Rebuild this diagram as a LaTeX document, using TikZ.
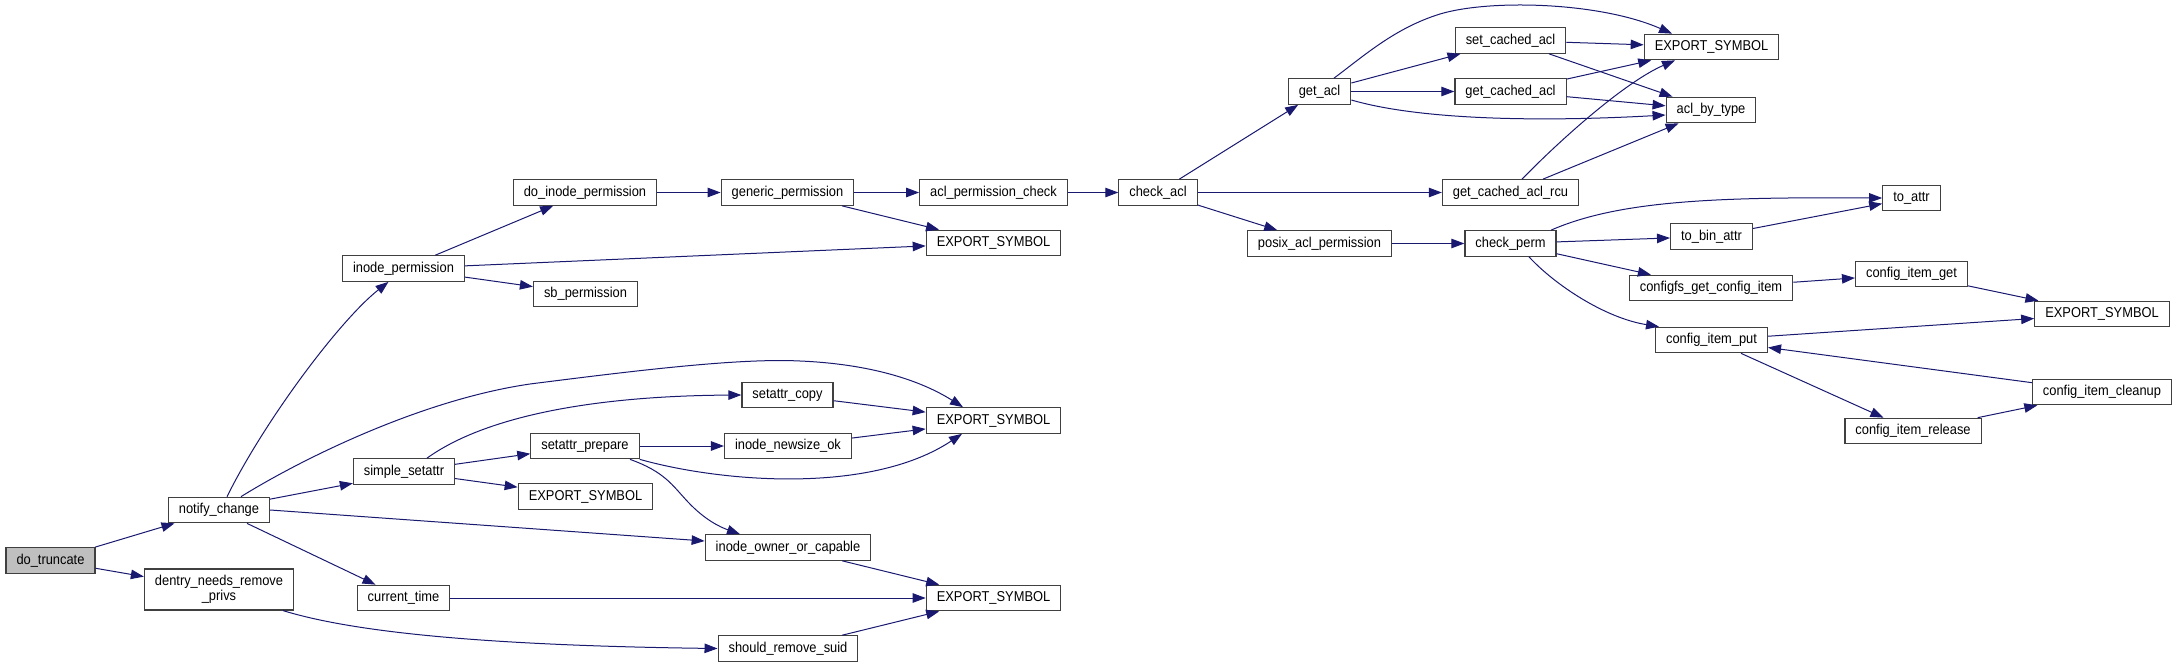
\documentclass[tikz,border=0pt]{standalone}
\usepackage{fontspec}
\setmainfont{Liberation Sans}[FakeStretch=0.9]
\usetikzlibrary{arrows.meta}
\definecolor{edgeblue}{HTML}{191970}
\definecolor{boxline}{HTML}{404040}
\definecolor{rootfill}{HTML}{BFBFBF}

\begin{document}
\begin{tikzpicture}[
  x=1pt, y=-1pt,
  fn/.style={draw=boxline, line width=1.2pt, fill=white, inner xsep=10.5pt, inner ysep=0pt, minimum height=25.5pt, text height=10.5pt, text depth=3pt, font=\fontsize{14.3}{15}\selectfont},
  root/.style={fn, fill=rootfill},
  call/.style={-{Triangle[length=13pt,width=9.5pt]}, draw=edgeblue, line width=1pt}
]
\useasboundingbox (0,0) rectangle (2176,667);

\node[root] (dotr) at (50.5,560.5) {do\_truncate};
\node[fn] (notch) at (219,510) {notify\_change};
\node[fn, align=center, text height=25.5pt, text depth=3pt, minimum height=41pt] (dnrp) at (219,589.5) {dentry\_needs\_remove\\\_privs};
\node[fn] (inperm) at (403.5,268.5) {inode\_permission};
\node[fn] (sset) at (404,471.5) {simple\_setattr};
\node[fn] (curt) at (403.5,598) {current\_time};
\node[fn] (doinp) at (585,192.5) {do\_inode\_permission};
\node[fn] (sbp) at (585.5,294) {sb\_permission};
\node[fn] (sprep) at (585,446) {setattr\_prepare};
\node[fn] (exA) at (585.5,496.5) {EXPORT\_SYMBOL};
\node[fn] (genp) at (787.5,192.5) {generic\_permission};
\node[fn] (scopy) at (787.5,395) {setattr\_copy};
\node[fn] (nsok) at (788,446) {inode\_newsize\_ok};
\node[fn] (ioc) at (788,547.5) {inode\_owner\_or\_capable};
\node[fn] (srs) at (788,648.5) {should\_remove\_suid};
\node[fn] (aclpc) at (993.5,192.5) {acl\_permission\_check};
\node[fn] (exB) at (993.5,243) {EXPORT\_SYMBOL};
\node[fn] (exC) at (993.5,420.5) {EXPORT\_SYMBOL};
\node[fn] (exD) at (993.5,598) {EXPORT\_SYMBOL};
\node[fn] (chacl) at (1158,192.5) {check\_acl};
\node[fn] (getacl) at (1319.5,91.5) {get\_acl};
\node[fn] (posix) at (1319.5,243.5) {posix\_acl\_permission};
\node[fn] (setca) at (1510.5,40.5) {set\_cached\_acl};
\node[fn] (getca) at (1510.5,91.5) {get\_cached\_acl};
\node[fn] (rcu) at (1510.5,192.5) {get\_cached\_acl\_rcu};
\node[fn] (chperm) at (1510.5,243.5) {check\_perm};
\node[fn] (exE) at (1711.5,47) {EXPORT\_SYMBOL};
\node[fn] (abt) at (1711,110) {acl\_by\_type};
\node[fn] (tobin) at (1711.5,236.5) {to\_bin\_attr};
\node[fn] (cfgget) at (1711,288) {configfs\_get\_config\_item};
\node[fn] (cput) at (1711.5,340) {config\_item\_put};
\node[fn] (toattr) at (1911.5,198) {to\_attr};
\node[fn] (cig) at (1911.5,274) {config\_item\_get};
\node[fn] (crel) at (1913,431) {config\_item\_release};
\node[fn] (exF) at (2102,314) {EXPORT\_SYMBOL};
\node[fn] (cclean) at (2102,392) {config\_item\_cleanup};

\draw[call] (dotr) -- (notch);
\draw[call] (dotr) -- (dnrp);
\draw[call] ([xshift=8pt]notch.north) .. controls (265,420) and (340,320) .. ([xshift=-15pt]inperm.south);
\draw[call] ([xshift=22pt]notch.north) .. controls (300,460) and (420,400) .. (530,384) .. controls (640,370) and (740,358) .. (800,361) .. controls (870,364) and (920,380) .. ([xshift=-30.5pt]exC.north);
\draw[call] (notch.12) -- (sset.193);
\draw[call] (notch.east) -- ([yshift=6.5pt]ioc.west);
\draw[call] (notch) -- (curt);
\draw[call] ([xshift=64pt]dnrp.south) .. controls (340,628) and (450,645) .. (srs.west);
\draw[call] (inperm) -- (doinp);
\draw[call] (inperm) -- (exB);
\draw[call] (inperm) -- (sbp);
\draw[call] (doinp) -- (genp);
\draw[call] (genp) -- (aclpc);
\draw[call] (genp) -- (exB);
\draw[call] (aclpc) -- (chacl);
\draw[call] (chacl) -- (getacl);
\draw[call] (chacl) -- (rcu);
\draw[call] (chacl) -- (posix);
\draw[call] (posix) -- (chperm);
\draw[call] ([xshift=14.5pt]getacl.north) .. controls (1365,55) and (1395,28) .. (1440,14) .. controls (1490,-1) and (1600,2) .. ([xshift=-39.5pt]exE.north);
\draw[call] (getacl) -- (setca);
\draw[call] (getacl) -- (getca);
\draw[call] ([yshift=-8.5pt]getacl.east) .. controls (1420,120) and (1540,122) .. ([yshift=-5pt]abt.west);
\draw[call] (setca) -- (exE);
\draw[call] (setca) -- (abt);
\draw[call] (getca) -- (exE);
\draw[call] (getca) -- (abt);
\draw[call] ([xshift=11.5pt]rcu.north) .. controls (1560,140) and (1625,82) .. ([xshift=-36.5pt]exE.south);
\draw[call] (rcu) -- (abt);
\draw[call] ([xshift=40.5pt]chperm.north) .. controls (1620,200) and (1720,197) .. (toattr.west);
\draw[call] (chperm) -- (tobin);
\draw[call] (chperm) -- (cfgget);
\draw[call] ([xshift=18.5pt]chperm.south) .. controls (1555,285) and (1605,318) .. ([xshift=-52.5pt]cput.north);
\draw[call] (tobin) -- (toattr);
\draw[call] (cfgget) -- (cig);
\draw[call] (cig) -- (exF);
\draw[call] (cput) -- (exF);
\draw[call] (cput) -- (crel);
\draw[call] (crel) -- (cclean);
\draw[call] (cclean) -- (cput);
\draw[call] ([xshift=23pt]sset.north) .. controls (480,420) and (580,396) .. (scopy.west);
\draw[call] (sset) -- (sprep);
\draw[call] (sset) -- (exA);
\draw[call] (scopy) -- (exC);
\draw[call] (sprep) -- (nsok);
\draw[call] (sprep.south east) .. controls (720,482) and (870,495) .. ([xshift=-31.5pt]exC.south);
\draw[call] ([xshift=45pt]sprep.south) .. controls (665,472) and (672,485) .. (688,502) .. controls (705,520) and (720,527) .. ([xshift=-48pt]ioc.north);
\draw[call] (nsok) -- (exC);
\draw[call] (ioc) -- (exD);
\draw[call] (curt) -- (exD);
\draw[call] (srs) -- (exD);
\end{tikzpicture}
\end{document}
